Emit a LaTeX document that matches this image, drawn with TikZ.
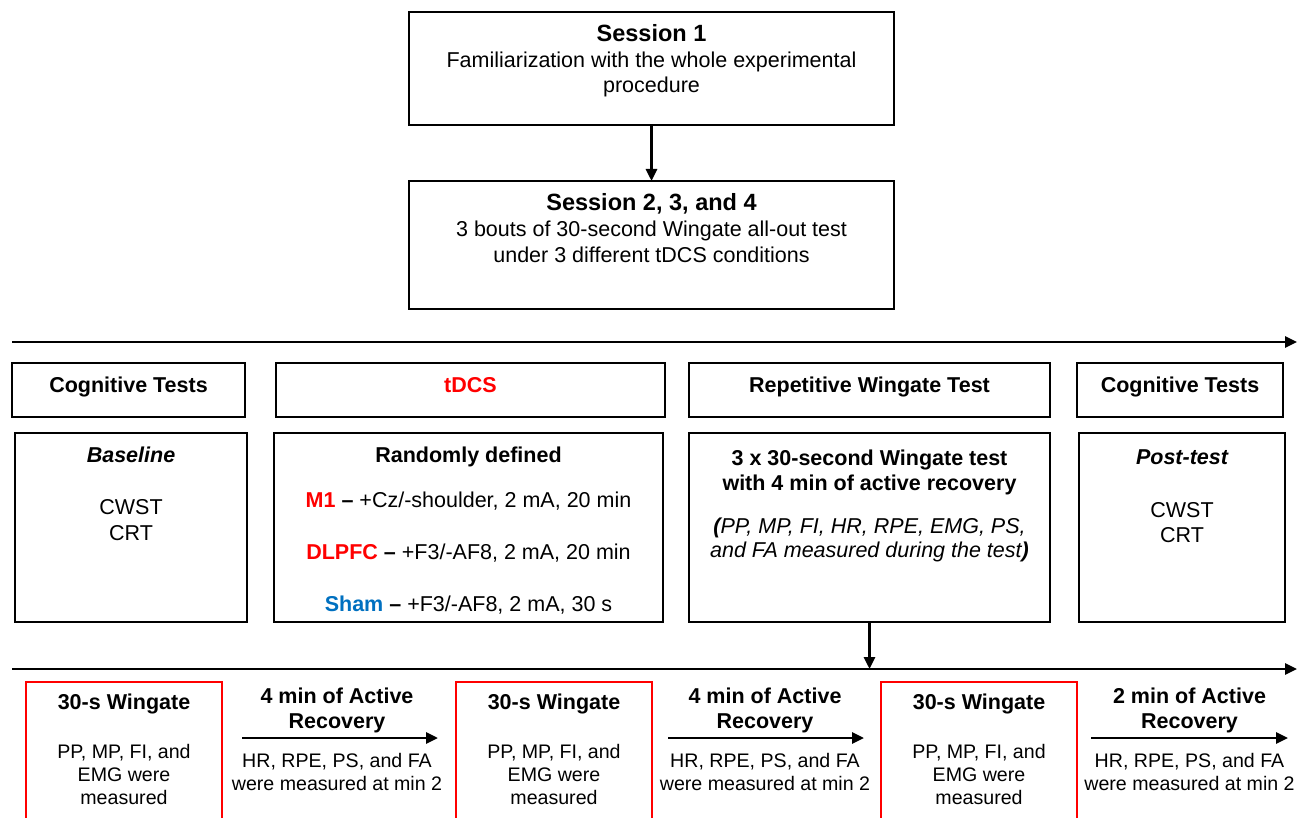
\documentclass[tikz,border=0pt]{standalone}
\usepackage{fontspec}
\setmainfont{Liberation Sans}
\usetikzlibrary{arrows.meta}
\definecolor{tred}{RGB}{255,0,0}
\definecolor{tblue}{RGB}{0,112,192}
\begin{document}
\begin{tikzpicture}[x=1pt,y=-1pt,
  box/.style={draw=black, line width=2.6pt, rectangle, inner sep=0pt, outer sep=0pt},
  rbox/.style={draw=tred, line width=2.4pt, rectangle, inner sep=0pt, outer sep=0pt},
  txt/.style={anchor=base, inner sep=0pt, font=\fontsize{21.5}{24}\selectfont},
  stxt/.style={anchor=base, inner sep=0pt, font=\fontsize{19.6}{23}\selectfont},
  btxt/.style={anchor=base, inner sep=0pt, font=\fontsize{21.5}{24}\selectfont\bfseries},
  bitxt/.style={anchor=base, inner sep=0pt, font=\fontsize{21.5}{24}\selectfont\bfseries\itshape},
  itxt/.style={anchor=base, inner sep=0pt, font=\fontsize{21.5}{24}\selectfont\itshape},
  ttl/.style={anchor=base, inner sep=0pt, font=\fontsize{23.5}{26}\selectfont\bfseries},
  arr/.style={line width=2.8pt, -{Triangle[length=12pt,width=11pt]}},
]
\useasboundingbox (0,0) rectangle (1306,818);
\clip (0,0) rectangle (1306,818);

% sessions
\node[box, minimum width=485pt, minimum height=113pt] (s1) at (651.5,68.5) {};
\node[box, minimum width=485pt, minimum height=128pt] (s2) at (651.5,245) {};
\draw[arr] (s1) -- (s2);
\node[ttl] (s1t) at (651.5,42) {Session 1};
\node[txt] (s1a) at (651.5,68) {Familiarization with the whole experimental};
\node[txt] (s1b) at (651.5,93) {procedure};
\node[ttl] (s2t) at (651.5,211) {Session 2, 3, and 4};
\node[txt] (s2a) at (651.5,237) {3 bouts of 30-second Wingate all-out test};
\node[txt] (s2b) at (651.5,263) {under 3 different tDCS conditions};

% timeline 1
\coordinate (t1a) at (12,342);
\coordinate (t1b) at (1297,342);
\draw[arr] (t1a) -- (t1b);

% top row
\node[box, minimum width=233pt, minimum height=54pt] (cog1) at (128.5,390) {};
\node[box, minimum width=389pt, minimum height=54pt] (tdcs) at (470.5,390) {};
\node[box, minimum width=361pt, minimum height=54pt] (rep) at (869.5,390) {};
\node[box, minimum width=206pt, minimum height=54pt] (cog2) at (1180,390) {};
\node[btxt] (cog1t) at (128.5,392) {Cognitive Tests};
\node[btxt, text=tred] (tdcst) at (470.5,392) {tDCS};
\node[btxt] (rept) at (869.5,392) {Repetitive Wingate Test};
\node[btxt] (cog2t) at (1180,392) {Cognitive Tests};

% second row
\node[box, minimum width=232pt, minimum height=189pt] (base) at (131,527.5) {};
\node[box, minimum width=389pt, minimum height=189pt] (rand) at (468.5,527.5) {};
\node[box, minimum width=361pt, minimum height=189pt] (w3) at (869.5,527.5) {};
\node[box, minimum width=206pt, minimum height=189pt] (post) at (1182,527.5) {};

\node[bitxt] (baset) at (131,462) {Baseline};
\node[txt] (base1) at (131,514) {CWST};
\node[txt] (base2) at (131,540) {CRT};

\node[btxt] (randt) at (468.5,462) {Randomly defined};
\node[txt] (rand1) at (468.5,507) {{\bfseries\color{tred}M1} {\bfseries –} +Cz/-shoulder, 2 mA, 20 min};
\node[txt] (rand2) at (468.5,559) {{\bfseries\color{tred}DLPFC} {\bfseries –} +F3/-AF8, 2 mA, 20 min};
\node[txt] (rand3) at (468.5,611) {{\bfseries\color{tblue}Sham} {\bfseries –} +F3/-AF8, 2 mA, 30 s};

\node[btxt] (w3a) at (869.5,465) {3 x 30-second Wingate test};
\node[btxt] (w3b) at (869.5,490) {with 4 min of active recovery};
\node[itxt] (w3c) at (869.5,533) {{\bfseries(}PP, MP, FI, HR, RPE, EMG, PS,};
\node[itxt] (w3d) at (869.5,557) {and FA measured during the test{\bfseries)}};

\node[bitxt] (postt) at (1182,464) {Post-test};
\node[txt] (post1) at (1182,517) {CWST};
\node[txt] (post2) at (1182,542) {CRT};

% timeline 2
\coordinate (t2a) at (12,669);
\coordinate (t2b) at (1297,669);
\draw[arr] (t2a) -- (t2b);
\draw[arr] (w3.south) -- (w3.south |- t2a);

% bottom: wingate boxes
\foreach \cx/\nm in {124/wa, 554/wb, 979/wc}{
  \node[rbox, minimum width=196pt, minimum height=160pt] (\nm) at (\cx,762) {};
  \node[btxt] (\nm t) at (\cx,709) {30-s Wingate};
  \node[stxt] (\nm 1) at (\cx,758) {PP, MP, FI, and};
  \node[stxt] (\nm 2) at (\cx,781) {EMG were};
  \node[stxt] (\nm 3) at (\cx,804) {measured};
}

% bottom: recovery arrows
\coordinate (ra1) at (242,738); \coordinate (rb1) at (438,738);
\coordinate (ra2) at (668,738); \coordinate (rb2) at (864,738);
\coordinate (ra3) at (1091,738); \coordinate (rb3) at (1288,738);
\draw[arr] (ra1) -- (rb1);
\draw[arr] (ra2) -- (rb2);
\draw[arr] (ra3) -- (rb3);
\foreach \cx/\mn/\nm in {337/4/ka, 765/4/kb, 1189.5/2/kc}{
  \node[btxt] (\nm t) at (\cx,703) {\mn\ min of Active};
  \node[btxt] (\nm r) at (\cx,728) {Recovery};
  \node[stxt] (\nm 1) at (\cx,767) {HR, RPE, PS, and FA};
  \node[stxt] (\nm 2) at (\cx,790) {were measured at min 2};
}
\end{tikzpicture}
\end{document}
